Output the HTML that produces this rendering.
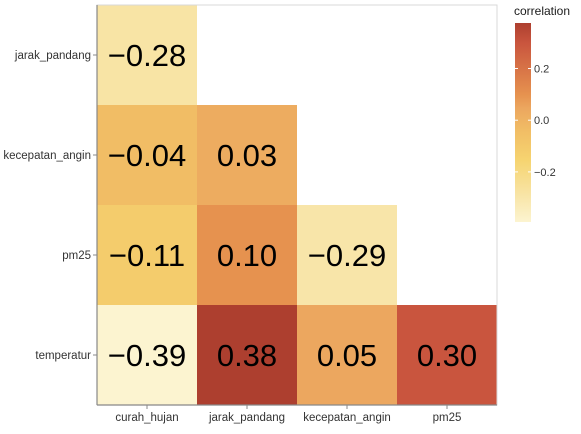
<!DOCTYPE html>
<html><head><meta charset="utf-8"><style>
body{margin:0;background:#fff;font-family:"Liberation Sans",sans-serif}
svg text{font-family:"Liberation Sans",sans-serif}
</style></head><body>
<svg id="chart" width="581" height="429" xmlns="http://www.w3.org/2000/svg">
<defs><linearGradient id="cbg" x1="0" y1="1" x2="0" y2="0">
<stop offset="0" stop-color="#fcf4d0"/><stop offset="0.14" stop-color="#f8e4a5"/><stop offset="0.31" stop-color="#f6d470"/><stop offset="0.46" stop-color="#f1bd65"/><stop offset="0.57" stop-color="#eca75f"/><stop offset="0.64" stop-color="#e6924f"/><stop offset="0.9" stop-color="#c9553e"/><stop offset="1" stop-color="#ad3f2f"/>
</linearGradient></defs>
<g id="cells"></g>
<rect x="97" y="5" width="400" height="400" fill="none" stroke="#d9d9d9" stroke-width="1"/>
<line x1="97" y1="5" x2="97" y2="405" stroke="#888" stroke-width="1.2"/>
<line x1="97" y1="405" x2="497" y2="405" stroke="#888" stroke-width="1.2"/>
<g id="axes"></g>
<text x="514" y="15" font-size="12" fill="#1a1a1a">correlation</text>
<rect x="515" y="23" width="16" height="199" fill="url(#cbg)"/>
<g id="legend"></g>
</svg>
<script>
const xCats=["curah_hujan","jarak_pandang","kecepatan_angin","pm25"];
const yCats=["jarak_pandang","kecepatan_angin","pm25","temperatur"];
const rowIdx=[0,1,1,2,2,2,3,3,3,3];
const colIdx=[0,0,1,0,1,2,0,1,2,3];
const values=[-0.28,-0.04,0.03,-0.11,0.10,-0.29,-0.39,0.38,0.05,0.30];
const legendTicks=[0.2,0.0,-0.2];
const vMin=-0.39,vMax=0.38;
const stops=[[-0.39,[252,244,208]],[-0.28,[248,228,165]],[-0.15,[246,212,112]],[-0.04,[241,189,101]],[0.05,[236,167,95]],[0.10,[230,146,79]],[0.30,[201,85,62]],[0.38,[173,63,47]]];
function color(v){
  if(v<=stops[0][0])return `rgb(${stops[0][1]})`;
  for(let i=1;i<stops.length;i++){if(v<=stops[i][0]){const a=stops[i-1],b=stops[i],t=(v-a[0])/(b[0]-a[0]);
    return `rgb(${a[1].map((c,k)=>Math.round(c+(b[1][k]-c)*t)).join(',')})`;}}
  return `rgb(${stops[stops.length-1][1]})`;
}
const x0=97,y0=5,cw=100,ch=100;
const xPos=i=>x0+i*cw, yPos=j=>y0+j*ch;
const NS="http://www.w3.org/2000/svg";
const mk=(t,a,p)=>{const e=document.createElementNS(NS,t);for(const k in a)e.setAttribute(k,a[k]);p.appendChild(e);return e;};
const cells=document.getElementById('cells');
values.forEach((v,i)=>{
  const r=mk('rect',{x:xPos(colIdx[i]),y:yPos(rowIdx[i]),width:cw,height:ch,fill:color(v)},cells);
  
  
  const t=mk('text',{x:xPos(colIdx[i])+cw/2,y:yPos(rowIdx[i])+ch/2+11,'text-anchor':'middle','font-size':31,fill:'#000'},cells);
  t.textContent=(v<0?'\u2212':'')+Math.abs(v).toFixed(2);
  
  
});
const axes=document.getElementById('axes');
xCats.forEach((c,i)=>{
  const cx=xPos(i)+cw/2;
  const l=mk('line',{x1:cx,y1:405,x2:cx,y2:409,stroke:'#888'},axes);
  
  
  const t=mk('text',{x:cx,y:421,'text-anchor':'middle','font-size':11.5,fill:'#333'},axes);
  t.textContent=c;
  
  
});
yCats.forEach((c,j)=>{
  const cy=yPos(j)+ch/2;
  const l=mk('line',{x1:93,y1:cy,x2:97,y2:cy,stroke:'#888'},axes);
  
  
  const t=mk('text',{x:91,y:cy+4,'text-anchor':'end','font-size':11.5,fill:'#333'},axes);
  t.textContent=c;
  
  
});
const lg=document.getElementById('legend');
const ly=v=>222-(v-vMin)/(vMax-vMin)*199;
legendTicks.forEach(v=>{
  const y=ly(v)-1;
  mk('line',{x1:515,y1:y,x2:518,y2:y,stroke:'#fff'},lg);
  mk('line',{x1:528,y1:y,x2:531,y2:y,stroke:'#fff'},lg);
  const t=mk('text',{x:534,y:y+4,'font-size':11,fill:'#333'},lg);
  t.textContent=(v<0?'\u2212':'')+Math.abs(v).toFixed(1);
  
  
});
</script>
</body></html>
